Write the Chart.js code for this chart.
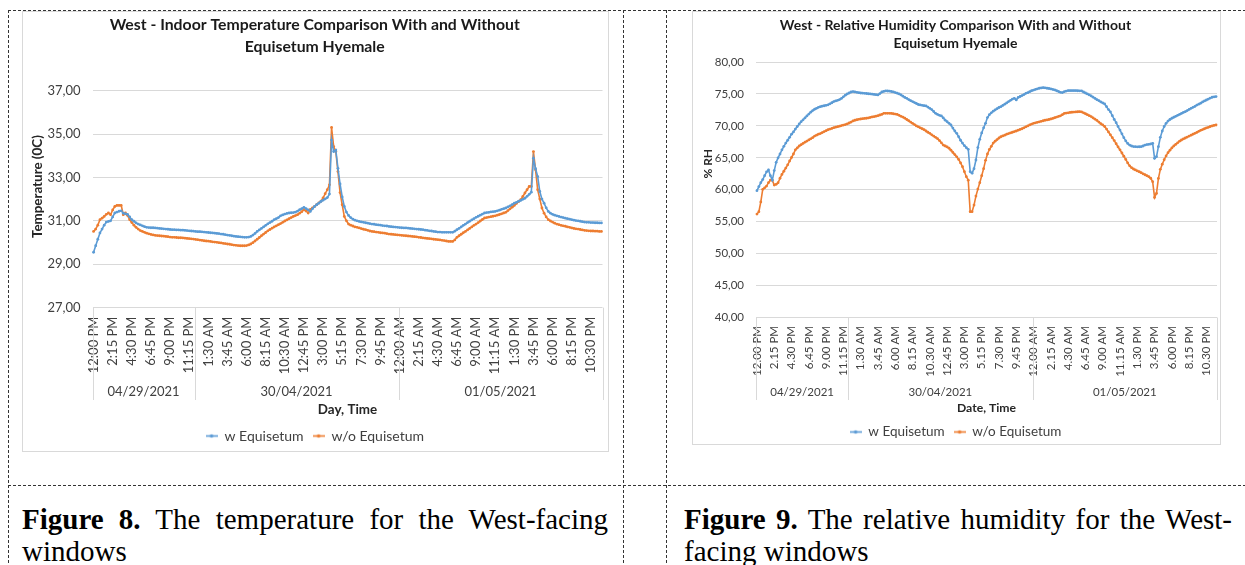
<!DOCTYPE html>
<html><head><meta charset="utf-8">
<script src="https://cdn.jsdelivr.net/npm/chart.js@4.4.1/dist/chart.umd.min.js"></script>
<style>
html,body{margin:0;padding:0;background:#fff;width:1245px;height:565px;overflow:hidden;position:relative;}
.box{position:absolute;border:1px solid #d9d9d9;background:#fff;}
.box canvas{display:block;}
svg.frame{position:absolute;left:0;top:0;}
.cap{position:absolute;font-family:"Liberation Serif","Times New Roman",serif;font-size:29px;line-height:32px;color:#000;}
.cap .l1{text-align:justify;text-align-last:justify;}
</style></head><body>
<svg class="frame" width="1245" height="565">
  <g stroke="#333" stroke-width="1" stroke-dasharray="3 2" fill="none">
    <path d="M8 10.5H1245"/>
    <path d="M8 485.5H1245"/>
    <path d="M8.5 10V565"/>
    <path d="M623.5 10V565"/>
    <path d="M666.5 10V565"/>
  </g>
</svg>
<div class="box" style="left:22px;top:11px;"><canvas id="c1" width="585" height="439"></canvas></div>
<div class="box" style="left:692px;top:11px;"><canvas id="c2" width="527" height="432"></canvas></div>
<div class="cap" style="left:22px;top:503px;width:586px;"><div class="l1"><b>Figure 8.</b> The temperature for the West-facing</div><div>windows</div></div>
<div class="cap" style="left:684px;top:503px;width:548px;"><div class="l1"><b>Figure 9.</b> The relative humidity for the West-</div><div>facing windows</div></div>
<script>
// ---------- DATA ----------
const seriesNames = ['w Equisetum', 'w/o Equisetum'];
const dayLabels = ['04/29/2021', '30/04/2021', '01/05/2021'];
const dayStarts = [0, 48, 144];          // first 15-min reading of each day
const tickEvery = 9;                      // a label every 2h15
const tempTickLabels = ['12:00 PM','2:15 PM','4:30 PM','6:45 PM','9:00 PM','11:15 PM','1:30 AM','3:45 AM','6:00 AM','8:15 AM','10:30 AM','12:45 PM','3:00 PM','5:15 PM','7:30 PM','9:45 PM','12:00 AM','2:15 AM','4:30 AM','6:45 AM','9:00 AM','11:15 AM','1:30 PM','3:45 PM','6:00 PM','8:15 PM','10:30 PM'];
const rhTickLabels = ['12.00 PM','2.15 PM','4.30 PM','6.45 PM','9.00 PM','11.15 PM','1.30 AM','3.45 AM','6.00 AM','8.15 AM','10.30 AM','12.45 PM','3.00 PM','5.15 PM','7.30 PM','9.45 PM','12.00 AM','2.15 AM','4.30 AM','6.45 AM','9.00 AM','11.15 AM','1.30 PM','3.45 PM','6.00 PM','8.15 PM','10.30 PM'];

const tempWith = [
29.55,29.85,30.15,30.44,30.62,30.80,30.94,30.97,31.00,31.18,
31.36,31.40,31.44,31.46,31.35,31.32,31.30,31.18,31.05,30.98,
30.90,30.85,30.81,30.77,30.73,30.70,30.69,30.68,30.68,30.67,
30.66,30.65,30.64,30.63,30.62,30.61,30.60,30.59,30.59,30.58,
30.58,30.57,30.57,30.56,30.55,30.54,30.53,30.52,30.51,30.50,
30.50,30.49,30.48,30.47,30.46,30.45,30.44,30.43,30.42,30.41,
30.39,30.38,30.36,30.34,30.33,30.31,30.29,30.28,30.27,30.26,
30.25,30.24,30.24,30.25,30.28,30.34,30.42,30.51,30.58,30.65,
30.72,30.79,30.86,30.92,30.98,31.05,31.10,31.15,31.23,31.27,
31.31,31.34,31.36,31.37,31.38,31.40,31.45,31.51,31.56,31.62,
31.56,31.50,31.43,31.55,31.66,31.74,31.81,31.89,31.95,32.01,
32.07,32.23,34.72,34.19,34.26,33.42,32.70,32.10,31.66,31.40,
31.25,31.15,31.08,31.03,31.00,30.97,30.95,30.93,30.91,30.89,
30.87,30.85,30.84,30.82,30.81,30.80,30.78,30.77,30.76,30.74,
30.73,30.72,30.71,30.70,30.69,30.68,30.67,30.67,30.66,30.65,
30.64,30.63,30.62,30.61,30.60,30.59,30.57,30.56,30.54,30.53,
30.51,30.50,30.48,30.48,30.47,30.47,30.47,30.47,30.47,30.47,
30.52,30.59,30.65,30.72,30.79,30.85,30.92,30.98,31.04,31.10,
31.16,31.21,31.26,31.31,31.36,31.38,31.39,31.41,31.42,31.43,
31.46,31.49,31.53,31.56,31.59,31.64,31.69,31.75,31.81,31.85,
31.90,31.94,31.99,32.04,32.13,32.22,32.32,33.88,33.40,33.04,
32.35,32.00,31.81,31.60,31.43,31.35,31.30,31.26,31.23,31.20,
31.17,31.15,31.12,31.10,31.08,31.05,31.03,31.01,31.00,30.98,
30.96,30.94,30.93,30.93,30.92,30.92,30.91,30.91,30.90,30.90];

const tempWithout = [
30.51,30.62,30.80,31.05,31.12,31.20,31.30,31.36,31.28,31.50,
31.66,31.71,31.71,31.71,31.28,31.36,31.25,31.05,30.92,30.80,
30.70,30.62,30.55,30.51,30.47,30.43,30.40,30.37,30.35,30.33,
30.32,30.31,30.30,30.29,30.28,30.27,30.25,30.24,30.24,30.23,
30.22,30.22,30.21,30.20,30.19,30.18,30.17,30.16,30.14,30.13,
30.11,30.10,30.08,30.07,30.06,30.05,30.03,30.02,30.01,29.99,
29.98,29.96,29.95,29.93,29.92,29.90,29.88,29.87,29.86,29.85,
29.85,29.85,29.86,29.89,29.93,29.99,30.07,30.15,30.23,30.31,
30.39,30.46,30.54,30.60,30.66,30.72,30.77,30.82,30.87,30.93,
30.99,31.04,31.10,31.15,31.20,31.24,31.28,31.35,31.42,31.51,
31.45,31.36,31.52,31.60,31.66,31.74,31.82,31.90,32.05,32.25,
32.43,32.66,35.30,34.42,34.19,33.27,32.30,31.74,31.20,31.00,
30.85,30.80,30.76,30.72,30.70,30.67,30.64,30.61,30.59,30.56,
30.53,30.51,30.50,30.48,30.47,30.45,30.44,30.43,30.41,30.39,
30.38,30.37,30.36,30.35,30.34,30.33,30.32,30.31,30.30,30.29,
30.28,30.27,30.26,30.24,30.23,30.21,30.20,30.19,30.18,30.17,
30.15,30.14,30.13,30.12,30.10,30.09,30.07,30.05,30.05,30.05,
30.12,30.24,30.31,30.38,30.45,30.51,30.58,30.65,30.72,30.79,
30.85,30.92,30.99,31.06,31.13,31.15,31.17,31.19,31.21,31.23,
31.26,31.29,31.32,31.36,31.39,31.47,31.55,31.63,31.71,31.80,
31.88,31.97,32.12,32.28,32.43,32.58,32.58,34.19,33.35,32.43,
32.00,31.59,31.35,31.18,31.05,30.99,30.94,30.89,30.85,30.82,
30.79,30.77,30.75,30.72,30.70,30.67,30.65,30.63,30.62,30.60,
30.58,30.56,30.55,30.54,30.53,30.53,30.52,30.52,30.51,30.51];

const rhWith = [
59.85,60.50,61.10,61.60,62.20,62.80,63.10,62.20,61.52,63.00,
64.30,65.00,65.60,66.25,66.80,67.30,67.75,68.20,68.70,69.05,
69.50,69.90,70.30,70.65,70.95,71.25,71.55,71.85,72.15,72.40,
72.60,72.75,72.90,73.00,73.08,73.15,73.22,73.30,73.45,73.62,
73.80,73.90,74.00,74.12,74.30,74.55,74.80,75.00,75.15,75.30,
75.37,75.32,75.26,75.20,75.15,75.12,75.10,75.07,75.03,75.00,
74.96,74.92,74.88,74.84,75.05,75.30,75.40,75.47,75.46,75.43,
75.38,75.31,75.22,75.12,75.00,74.85,74.65,74.45,74.32,74.12,
73.95,73.80,73.65,73.50,73.35,73.28,73.22,73.17,73.12,72.95,
72.75,72.55,72.25,71.97,71.80,71.65,71.55,71.25,70.90,70.66,
70.40,70.14,69.65,69.20,68.83,68.30,67.75,67.30,66.90,66.59,
66.33,62.83,62.60,63.30,64.66,66.60,67.90,68.90,69.70,70.40,
71.30,71.75,72.05,72.30,72.50,72.70,72.88,73.00,73.20,73.40,
73.60,73.80,74.00,74.20,74.32,74.06,74.45,74.60,74.75,74.90,
75.10,75.20,75.35,75.50,75.60,75.70,75.80,75.89,75.94,75.99,
75.95,75.89,75.85,75.78,75.70,75.63,75.50,75.38,75.25,75.21,
75.35,75.45,75.52,75.52,75.52,75.52,75.52,75.50,75.49,75.47,
75.30,75.15,75.00,74.85,74.69,74.50,74.30,74.10,73.95,73.75,
73.60,73.43,73.00,72.55,72.20,71.60,71.00,70.50,69.90,69.35,
68.75,68.15,67.65,67.25,67.00,66.85,66.76,66.74,66.72,66.73,
66.74,66.85,67.00,67.08,67.11,67.16,67.27,64.92,65.18,66.74,
68.20,69.20,69.90,70.40,70.75,71.00,71.19,71.35,71.50,71.65,
71.80,71.95,72.10,72.23,72.40,72.58,72.75,72.90,73.05,73.25,
73.40,73.55,73.75,73.90,74.05,74.20,74.35,74.48,74.55,74.58];

const rhWithout = [
56.19,56.56,58.10,60.06,60.30,60.58,61.10,61.52,61.45,60.74,
60.85,61.10,61.80,62.40,62.90,63.40,63.90,64.50,65.05,65.60,
66.25,66.55,66.85,67.05,67.25,67.45,67.62,67.80,67.98,68.15,
68.40,68.55,68.70,68.80,68.95,69.10,69.25,69.40,69.50,69.60,
69.72,69.80,69.88,69.95,70.05,70.12,70.20,70.30,70.45,70.60,
70.78,70.88,70.96,71.03,71.08,71.12,71.16,71.19,71.25,71.32,
71.40,71.45,71.52,71.60,71.70,71.80,71.97,71.97,71.97,71.97,
71.95,71.90,71.85,71.80,71.65,71.50,71.38,71.20,71.00,70.80,
70.60,70.40,70.20,70.00,69.85,69.70,69.55,69.40,69.20,69.00,
68.83,68.60,68.40,68.20,68.00,67.70,67.35,67.00,66.85,66.70,
66.50,66.20,65.85,65.50,65.15,64.75,64.20,63.60,62.83,62.04,
61.50,56.56,56.56,57.60,59.01,60.10,61.10,62.20,63.30,64.60,
65.60,66.30,66.80,67.30,67.60,67.85,68.10,68.30,68.42,68.55,
68.70,68.80,68.90,69.00,69.10,69.20,69.32,69.45,69.55,69.70,
69.85,70.00,70.15,70.28,70.40,70.48,70.56,70.64,70.72,70.80,
70.88,70.93,71.00,71.08,71.17,71.27,71.38,71.48,71.58,71.75,
71.95,72.00,72.05,72.10,72.13,72.16,72.19,72.21,72.23,72.18,
72.05,71.90,71.75,71.60,71.45,71.25,71.05,70.85,70.60,70.35,
70.15,69.90,69.50,69.05,68.60,68.15,67.70,67.20,66.70,66.25,
65.75,65.25,64.75,64.20,63.75,63.45,63.25,63.10,62.95,62.82,
62.67,62.50,62.35,62.20,62.04,61.80,61.26,58.80,59.43,61.78,
63.19,64.00,64.70,65.30,65.80,66.20,66.55,66.85,67.10,67.35,
67.60,67.79,67.95,68.10,68.25,68.40,68.55,68.70,68.83,68.98,
69.15,69.30,69.42,69.55,69.68,69.78,69.90,70.00,70.08,70.14];

// one category per 15-minute reading, 12:00 PM 04/29 to 11:45 PM 05/01
const categories = tempWith.map((_, i) => {
  const m = 12 * 60 + 15 * i, d = Math.floor(m / 1440), mm = m % 1440;
  return dayLabels[d] + ' ' + String(Math.floor(mm / 60)).padStart(2, '0') + ':' + String(mm % 60).padStart(2, '0');
});

// ---------- STYLE ----------
const BLUE = '#5B9BD5', ORANGE = '#ED7D31';
const FONT = 'Lato';
Chart.defaults.font.family = FONT;
Chart.defaults.color = '#404040';

function legendMarker(color) {
  const cv = document.createElement('canvas');
  cv.width = 12; cv.height = 7;
  const g = cv.getContext('2d');
  g.strokeStyle = color; g.lineWidth = 1.6;
  g.beginPath(); g.moveTo(0, 3.5); g.lineTo(12, 3.5); g.stroke();
  g.fillStyle = color; g.beginPath(); g.arc(6, 3.5, 1.8, 0, Math.PI * 2); g.fill();
  return cv;
}
const markers = [legendMarker(BLUE), legendMarker(ORANGE)];

const dayGroups = {
  id: 'dayGroups',
  afterDraw(chart, args, o) {
    const x = chart.scales.x, y = chart.scales.y, ctx = chart.ctx, ca = chart.chartArea;
    const n = chart.data.labels.length;
    const half = (x.getPixelForValue(1) - x.getPixelForValue(0)) / 2;
    const bounds = o.starts.map(s => x.getPixelForValue(s) - half);
    bounds.push(x.getPixelForValue(n - 1) + half);
    ctx.save();
    ctx.strokeStyle = '#d9d9d9'; ctx.lineWidth = 1;
    bounds.forEach(b => {
      const px = Math.round(b) + 0.5;
      ctx.beginPath(); ctx.moveTo(px, ca.bottom); ctx.lineTo(px, ca.bottom + o.lineLength); ctx.stroke();
    });
    ctx.fillStyle = '#404040';
    ctx.font = o.fontSize + 'px ' + FONT;
    ctx.textAlign = 'center'; ctx.textBaseline = 'middle';
    o.labels.forEach((t, k) => ctx.fillText(t, (bounds[k] + bounds[k + 1]) / 2, ca.bottom + o.labelOffset));
    // y-axis title (placed like the original, a little above the plot centre)
    ctx.translate(y.left + o.yTitleOffset, (ca.top + ca.bottom) / 2 + o.yTitleShift);
    ctx.rotate(-Math.PI / 2);
    ctx.fillStyle = '#262626';
    ctx.font = 'bold ' + o.yTitleSize + 'px ' + FONT;
    ctx.fillText(o.yTitle, 0, 0);
    ctx.restore();
  }
};

function fmt(v) { return v.toFixed(2).replace('.', ','); }

function makeChart(id, c) {
  return new Chart(document.getElementById(id), {
    type: 'line',
    data: {
      labels: categories,
      datasets: [
        { label: seriesNames[0], data: c.a, borderColor: BLUE, backgroundColor: BLUE },
        { label: seriesNames[1], data: c.b, borderColor: ORANGE, backgroundColor: ORANGE }
      ]
    },
    plugins: [dayGroups],
    options: {
      responsive: false, animation: false,
      elements: {
        line: { borderWidth: 1.6, tension: 0 },
        point: { radius: 1.4, borderWidth: 0, hoverRadius: 1.4 }
      },
      layout: { padding: { left: c.padL, right: c.padR, top: 0, bottom: c.padB } },
      plugins: {
        tooltip: { enabled: false },
        title: {
          display: true, text: c.title, color: '#1a1a1a',
          font: { size: c.titleSize, weight: 'bold', lineHeight: c.titleLH },
          padding: { top: c.titlePT, bottom: c.titlePB }
        },
        legend: {
          position: 'bottom',
          labels: {
            usePointStyle: true, pointStyleWidth: 12,
            font: { size: c.legendSize }, color: '#404040', padding: 9,
            generateLabels: ch => Chart.defaults.plugins.legend.labels.generateLabels(ch)
              .map((l, k) => { l.pointStyle = markers[k]; return l; })
          }
        },
        dayGroups: { labels: dayLabels, starts: dayStarts, fontSize: c.daySize,
                     labelOffset: c.dayOffset, lineLength: c.dayLine,
                     yTitle: c.yTitle, yTitleSize: c.yTitleSize, yTitleOffset: c.yTitleOffset, yTitleShift: c.yTitleShift }
      },
      scales: {
        x: {
          type: 'category', offset: true,
          grid: { display: false, drawTicks: false }, border: { display: false },
          ticks: {
            autoSkip: false, minRotation: 90, maxRotation: 90, padding: c.xTickPad,
            font: { size: c.tickSize }, color: '#404040',
            callback: (v, i) => (i % tickEvery === 0 ? c.ticks[i / tickEvery] : null)
          },
          title: { display: true, text: c.xTitle, color: '#262626',
                   font: { size: c.xTitleSize, weight: 'bold' }, padding: { top: 0, bottom: c.xTitlePB } },
          afterFit: s => { s.height = c.xH; s.paddingLeft = 0; s.paddingRight = 0; }
        },
        y: {
          min: c.min, max: c.max,
          grid: { color: '#d9d9d9', drawTicks: false }, border: { display: false },
          ticks: { stepSize: c.step, padding: c.yTickPad, font: { size: c.yTickSize }, color: '#404040',
                   callback: v => fmt(v) },
          title: { display: false },
          afterFit: s => { s.width = c.yW; }
        }
      }
    }
  });
}

makeChart('c1', {
  a: tempWith, b: tempWithout, ticks: tempTickLabels,
  title: ['West - Indoor Temperature Comparison With and Without', 'Equisetum Hyemale'],
  titleSize: 15.8, titleLH: 21.5 / 15.8, titlePT: 2.25, titlePB: 33.35,
  padL: 4, padR: 5.5, padB: -2, yW: 65.5, xH: 112.4,
  legendSize: 14, daySize: 13, dayOffset: 84.4, dayLine: 92.4,
  xTickPad: 9, tickSize: 13, xTitle: 'Day, Time', xTitleSize: 13.4, xTitlePB: 2,
  min: 27, max: 37, step: 2, yTickPad: 12, yTickSize: 13,
  yTitle: 'Temperature (0C)', yTitleSize: 13.4, yTitleOffset: 11, yTitleShift: -12.5
});

makeChart('c2', {
  a: rhWith, b: rhWithout, ticks: rhTickLabels,
  title: ['West - Relative Humidity Comparison With and Without', 'Equisetum Hyemale'],
  titleSize: 14, titleLH: 18.3 / 14, titlePT: 3.85, titlePB: 9.55,
  padL: 1, padR: 3, padB: -4.75, yW: 62, xH: 98.75,
  legendSize: 13.5, daySize: 11.5, dayOffset: 75.2, dayLine: 82.5,
  xTickPad: 8.5, tickSize: 11.5, xTitle: 'Date, Time', xTitleSize: 12.2, xTitlePB: 0.4,
  min: 40, max: 80, step: 5, yTickPad: 12, yTickSize: 11.5,
  yTitle: '% RH', yTitleSize: 12, yTitleOffset: 14, yTitleShift: -26
});
</script>
</body></html>
